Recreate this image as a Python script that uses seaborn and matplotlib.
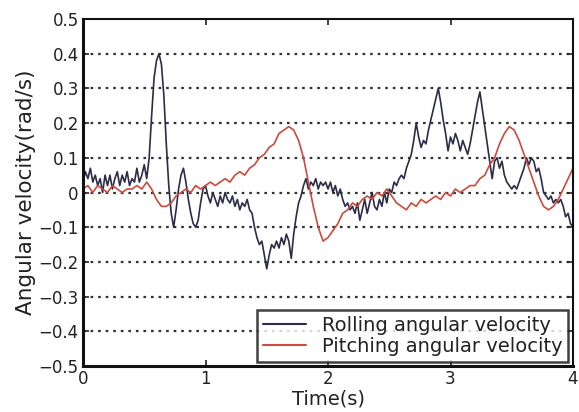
import numpy as np
import pandas as pd
import matplotlib
matplotlib.use("Agg")
import matplotlib.pyplot as plt
import seaborn as sns

# Rolling angular velocity, sampled every 0.02 s from 0 to 4 s
roll_time_step = 0.02
rolling = [
    0.03, 0.06, 0.04, 0.07, 0.03, 0.05, 0.02, 0.04, 0.00, 0.05,
    0.02, 0.05, 0.01, 0.04, 0.06, 0.02, 0.05, 0.03, 0.06, 0.02,
    0.04, 0.03, 0.07, 0.03, 0.05, 0.08, 0.04, 0.10, 0.22, 0.33,
    0.38, 0.40, 0.37, 0.28, 0.14, 0.02, -0.06, -0.10, -0.05, 0.01,
    0.05, 0.07, 0.03, -0.02, -0.06, -0.09, -0.10, -0.08, -0.03, 0.01,
    0.02, -0.01, -0.03, 0.00, -0.02, -0.04, -0.01, -0.03, 0.00, -0.02,
    -0.03, -0.01, -0.04, -0.02, -0.05, -0.03, -0.04, -0.02, -0.05, -0.06,
    -0.10, -0.13, -0.15, -0.14, -0.18, -0.22, -0.18, -0.15, -0.16, -0.14,
    -0.16, -0.13, -0.15, -0.12, -0.14, -0.19, -0.12, -0.07, -0.03, -0.01,
    0.02, 0.04, 0.01, 0.03, 0.02, 0.04, 0.01, 0.03, 0.02, 0.03,
    0.01, 0.03, 0.00, 0.02, -0.01, 0.01, -0.02, -0.04, -0.03, -0.05,
    -0.04, -0.06, -0.03, -0.08, -0.05, -0.02, -0.06, -0.03, 0.00, -0.04,
    -0.05, -0.02, -0.04, 0.00, -0.03, 0.01, 0.00, 0.03, 0.02, 0.04,
    0.05, 0.04, 0.07, 0.09, 0.11, 0.15, 0.20, 0.16, 0.13, 0.15,
    0.14, 0.18, 0.21, 0.24, 0.27, 0.30, 0.26, 0.21, 0.17, 0.12,
    0.16, 0.14, 0.17, 0.15, 0.12, 0.15, 0.13, 0.11, 0.14, 0.18,
    0.22, 0.26, 0.29, 0.24, 0.19, 0.14, 0.09, 0.04, 0.09, 0.10,
    0.07, 0.09, 0.05, 0.03, 0.02, 0.01, 0.02, 0.01, 0.03, 0.05,
    0.07, 0.10, 0.08, 0.10, 0.09, 0.06, 0.07, 0.04, 0.00, -0.01,
    -0.02, -0.01, -0.03, -0.02, -0.03, -0.02, -0.04, -0.07, -0.06, -0.09,
    -0.10,
]

# Pitching angular velocity, sampled every 0.04 s from 0 to 4 s
pitch_time_step = 0.04
pitching = [
    0.01, 0.02, 0.00, 0.02, 0.01, 0.00, 0.02, 0.01, 0.00, 0.01,
    0.01, 0.02, 0.01, 0.03, 0.01, -0.02, -0.04, -0.04, -0.03, -0.01,
    0.00, 0.01, 0.00, 0.02, 0.01, 0.02, 0.03, 0.02, 0.03, 0.04,
    0.03, 0.05, 0.06, 0.05, 0.07, 0.08, 0.10, 0.11, 0.13, 0.14,
    0.17, 0.18, 0.19, 0.18, 0.15, 0.10, 0.03, -0.04, -0.10, -0.14,
    -0.13, -0.11, -0.09, -0.06, -0.05, -0.03, -0.04, -0.02, -0.01, -0.02,
    0.00, -0.01, 0.01, -0.01, -0.03, -0.04, -0.05, -0.03, -0.04, -0.02,
    -0.03, -0.02, -0.01, -0.02, 0.00, -0.01, 0.01, 0.00, 0.01, 0.02,
    0.02, 0.04, 0.05, 0.08, 0.10, 0.14, 0.17, 0.19, 0.18, 0.15,
    0.11, 0.07, 0.03, -0.01, -0.04, -0.05, -0.04, -0.02, 0.01, 0.04,
    0.07,
]

series_names = ["Rolling angular velocity", "Pitching angular velocity"]
x_ticks = [0, 1, 2, 3, 4]
y_ticks = [-0.5, -0.4, -0.3, -0.2, -0.1, 0, 0.1, 0.2, 0.3, 0.4, 0.5]
y_tick_labels = ["\u22120.5", "\u22120.4", "\u22120.3", "\u22120.2", "\u22120.1",
                 "0", "0.1", "0.2", "0.3", "0.4", "0.5"]

roll_t = np.arange(len(rolling)) * roll_time_step
pitch_t = np.arange(len(pitching)) * pitch_time_step
df = pd.concat([
    pd.DataFrame({"t": roll_t, "v": rolling, "series": series_names[0]}),
    pd.DataFrame({"t": pitch_t, "v": pitching, "series": series_names[1]}),
], ignore_index=True)

sns.set_style("ticks")
plt.rcParams["font.family"] = ["DejaVu Sans"]

fig = plt.figure(figsize=(5.79, 4.12), dpi=100)
ax = fig.add_axes([83 / 579, 1 - 366 / 412, 490 / 579, 347 / 412])

palette = {series_names[0]: "#2c2c48", series_names[1]: "#cc4a3c"}
sns.lineplot(data=df, x="t", y="v", hue="series", palette=palette,
             linewidth=1.2, ax=ax, legend=True)

for yv in y_ticks[1:-1]:
    ax.axhline(yv, color="#333333", linestyle=(0, (1.2, 2.2)), linewidth=1.6,
               zorder=0)

ax.set_xlim(0, 4)
ax.set_ylim(-0.5, 0.5)
ax.set_xticks(x_ticks)
ax.set_xticklabels([str(v) for v in x_ticks])
ax.set_yticks(y_ticks)
ax.set_yticklabels(y_tick_labels)
ax.tick_params(direction="in", length=4, width=1.2, labelsize=12,
               colors="#222222", pad=3, top=True, right=True)
ax.set_xlabel("Time(s)", fontsize=14, labelpad=1, color="#222222")
ax.set_ylabel("Angular velocity(rad/s)", fontsize=15.5, labelpad=2,
              color="#222222")

for side, lw in [("left", 2.2), ("bottom", 2.2), ("top", 1.5), ("right", 1.5)]:
    ax.spines[side].set_visible(True)
    ax.spines[side].set_linewidth(lw)
    ax.spines[side].set_color("#111111")

leg = ax.legend(loc="lower right", bbox_to_anchor=(0.99, 0.012),
                fontsize=14, frameon=True, fancybox=False,
                edgecolor="#111111", handlelength=2.2, borderpad=0.3,
                labelspacing=0.12, handletextpad=0.8, borderaxespad=0)
leg.get_frame().set_linewidth(1.8)
for line in leg.get_lines():
    line.set_linewidth(1.5)
for txt in leg.get_texts():
    txt.set_color("#222222")

fig.savefig("out.png", dpi=100)
